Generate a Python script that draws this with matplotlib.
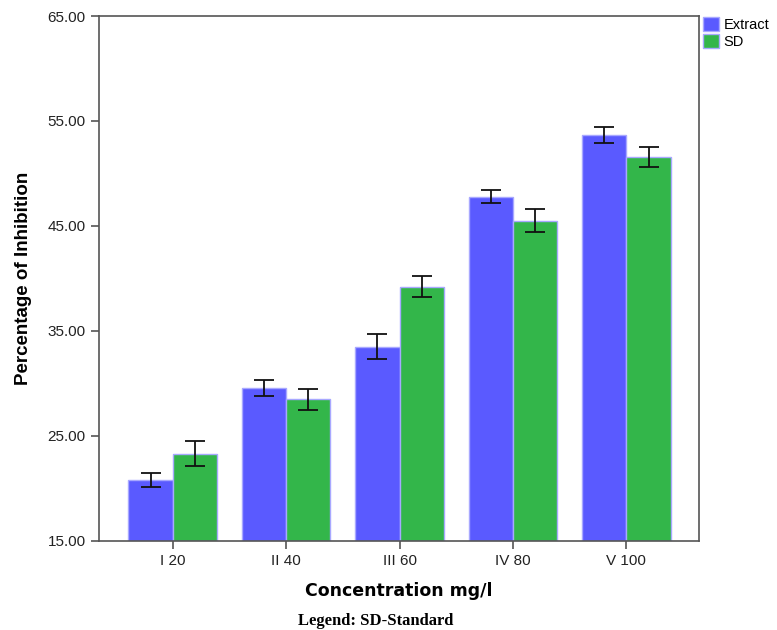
import numpy as np
import matplotlib.pyplot as plt

# data
categories = ['I 20', 'II 40', 'III 60', 'IV 80', 'V 100']
extract = [20.8, 29.6, 33.5, 47.8, 53.7]
extract_err = [0.65, 0.75, 1.2, 0.65, 0.75]
sd = [23.3, 28.5, 39.2, 45.5, 51.6]
sd_err = [1.2, 1.0, 1.0, 1.1, 0.95]
yticks = [15, 25, 35, 45, 55, 65]

fig = plt.figure(figsize=(7.77, 6.30), dpi=100)
ax = fig.add_axes([0.1274, 0.1413, 0.7722, 0.8333])

x = np.arange(len(categories))
w = 0.39
err_kw = dict(ecolor='#111111', elinewidth=1.3, capsize=7.5, capthick=1.3)
ax.bar(x - w / 2, [v - 15 for v in extract], w, bottom=15, yerr=extract_err,
       color='#5a5aff', edgecolor='#a8a8ff', linewidth=1, label='Extract', error_kw=err_kw)
ax.bar(x + w / 2, [v - 15 for v in sd], w, bottom=15, yerr=sd_err,
       color='#33b64a', edgecolor='#a8a8ff', linewidth=1, label='SD', error_kw=err_kw)

ax.set_xlim(-0.65, 4.64)
ax.set_ylim(15, 65)
ax.set_yticks(yticks)
ax.set_yticklabels(['%.2f' % t for t in yticks])
ax.set_xticks(x)
ax.set_xticklabels(categories)

for s in ax.spines.values():
    s.set_color('#555555')
    s.set_linewidth(1.2)
ax.tick_params(axis='both', direction='out', length=6, width=1.2, color='#555555',
               labelsize=11, labelcolor='#222222')
for lab in ax.get_xticklabels() + ax.get_yticklabels():
    lab.set_family('Liberation Sans')

ax.set_ylabel('Percentage of Inhibition', fontsize=13.5, fontweight='bold',
              family='Liberation Sans', labelpad=11)
ax.set_xlabel('Concentration mg/l', fontsize=12.5, fontweight='bold',
              family='DejaVu Sans', labelpad=10)

ax.legend(loc='upper left', bbox_to_anchor=(0.99, 1.017), frameon=False,
          prop={'family': 'Liberation Sans', 'size': 10.5},
          handlelength=1.1, handleheight=1.1, handletextpad=0.3,
          labelspacing=0.15, borderaxespad=0.3)

fig.text(0.484, 0.002, 'Legend: SD-Standard', ha='center', va='bottom',
         family='Liberation Serif', fontweight='bold', fontsize=12)

fig.savefig('out.png', dpi=100)
